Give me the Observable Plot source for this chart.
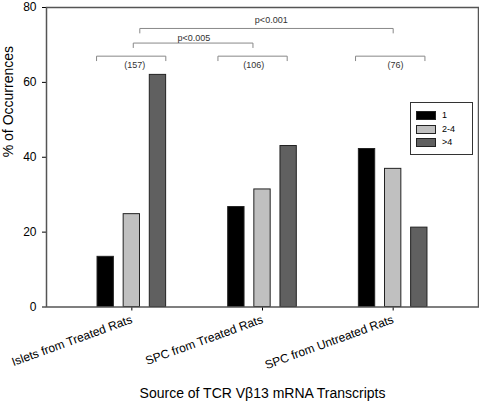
<!DOCTYPE html>
<html>
<head>
<meta charset="utf-8">
<script src="https://cdn.jsdelivr.net/npm/d3@7"></script>
<script src="https://cdn.jsdelivr.net/npm/@observablehq/plot@0.6"></script>
<style>
  body { margin: 0; background: #fff; }
  #wrap { position: relative; width: 479px; height: 406px; font-family: "Liberation Sans", Arial, sans-serif; }
  #wrap svg { overflow: visible; }
  .legend { position: absolute; left: 410px; top: 102px; width: 63px; height: 53px; border: 1px solid #333; background: #fff; box-sizing: border-box; }
  .row { position: absolute; left: 5px; height: 9px; font-size: 9px; line-height: 9px; }
  .sw { position: absolute; left: 0; top: 0; width: 20px; height: 9px; border: 1px solid #222; box-sizing: border-box; }
  .lb { position: absolute; left: 26px; top: 0; white-space: nowrap; color: #000; }
</style>
</head>
<body>
<div id="wrap"></div>
<script>
// ---- data ----
const groups = ["Islets from Treated Rats", "SPC from Treated Rats", "SPC from Untreated Rats"];
const seriesNames = ["1", "2-4", ">4"];
const values1 = [13.4, 26.7, 42.2];
const values2to4 = [24.8, 31.4, 36.9];
const valuesOver4 = [62.0, 43.0, 21.2];
const yTicks = [0, 20, 40, 60, 80];
const seriesColors = ["#000000", "#c0c0c0", "#606060"];

// group count brackets (x in group-index units, y in %)
const countLabels = ["(157)", "(106)", "(76)"];
const countBracketStart = [-0.27, 0.659, 1.712];
const countBracketEnd = [0.26, 1.189, 2.243];
const countBracketLevel = [67.0, 67.0, 67.0];
const countLabelX = [0.023, 0.933, 2.017];
const countLabelY = [64.6, 64.6, 64.6];

// significance brackets
const pLabels = ["p<0.005", "p<0.001"];
const pBracketStart = [0.011, 0.061];
const pBracketEnd = [0.927, 2.0];
const pBracketLevel = [70.5, 74.4];
const pLabelX = [0.474, 1.067];
const pLabelY = [71.9, 76.6];

// ---- build tables ----
const seriesValues = [values1, values2to4, valuesOver4];
const offsets = [-0.2, 0, 0.2];
const halfWidth = 0.0625;
const bars = [];
groups.forEach((g, gi) => {
  seriesNames.forEach((s, si) => {
    bars.push({group: g, gi, series: s, si, value: seriesValues[si][gi]});
  });
});

const drop = 1.2;
const bracketPts = [];
function addBracket(id, x1, x2, y) {
  bracketPts.push({id, x: x1, y: y - drop});
  bracketPts.push({id, x: x1, y});
  bracketPts.push({id, x: x2, y});
  bracketPts.push({id, x: x2, y: y - drop});
}
countLabels.forEach((l, i) => addBracket("c" + i, countBracketStart[i], countBracketEnd[i], countBracketLevel[i]));
pLabels.forEach((l, i) => addBracket("p" + i, pBracketStart[i], pBracketEnd[i], pBracketLevel[i]));

const labels = [
  ...countLabels.map((t, i) => ({t, x: countLabelX[i], y: countLabelY[i]})),
  ...pLabels.map((t, i) => ({t, x: pLabelX[i], y: pLabelY[i]}))
];

const chart = Plot.plot({
  width: 479,
  height: 406,
  marginLeft: 46,
  marginRight: 1,
  marginTop: 7,
  marginBottom: 99.5,
  style: {fontFamily: '"Liberation Sans", Arial, sans-serif', fontSize: "12px", color: "#000", background: "#fff", overflow: "visible"},
  x: {domain: [-0.653, 2.653], ticks: [0, 1, 2], tickFormat: i => groups[i], tickRotate: -20, tickSize: 4, tickPadding: 8, label: null},
  y: {domain: [0, 80], ticks: yTicks, tickSize: 4, tickPadding: 6, label: null},
  color: {domain: seriesNames, range: seriesColors},
  marks: [
    Plot.rectY(bars, {
      x1: d => d.gi + offsets[d.si] - halfWidth,
      x2: d => d.gi + offsets[d.si] + halfWidth,
      y1: d => 0,
      y2: "value",
      fill: "series",
      stroke: "#222",
      strokeWidth: 1
    }),
    Plot.line(bracketPts, {x: "x", y: "y", z: "id", stroke: "#888", strokeWidth: 1, curve: "linear"}),
    Plot.text(labels, {x: "x", y: "y", text: "t", fontSize: 9, fill: "#333"}),
    Plot.frame({stroke: "#555", strokeWidth: 1.5}),
    Plot.text(["% of Occurrences"], {frameAnchor: "left", text: d => d, rotate: -90, dx: -38, fontSize: 14}),
    Plot.text(["Source of TCR V\u03b213 mRNA Transcripts"], {frameAnchor: "bottom", text: d => d, dy: 91, fontSize: 14})
  ]
});

const wrap = document.getElementById("wrap");
wrap.appendChild(chart);

// legend (inside the plot area)
const legend = document.createElement("div");
legend.className = "legend";
const rowTops = [8, 21.5, 34.5];
seriesNames.forEach((s, i) => {
  const row = document.createElement("div");
  row.className = "row";
  row.style.top = rowTops[i] + "px";
  const sw = document.createElement("div");
  sw.className = "sw";
  sw.style.background = seriesColors[i];
  const lb = document.createElement("div");
  lb.className = "lb";
  lb.textContent = s;
  row.appendChild(sw);
  row.appendChild(lb);
  legend.appendChild(row);
});
wrap.appendChild(legend);
</script>
</body>
</html>
